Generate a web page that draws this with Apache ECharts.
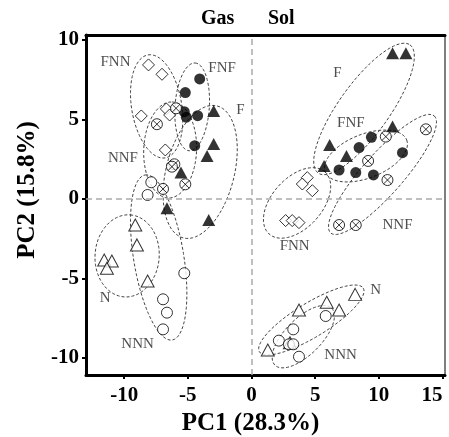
<!DOCTYPE html>
<html>
<head>
<meta charset="utf-8">
<script src="https://cdn.jsdelivr.net/npm/echarts@6/dist/echarts.min.js"></script>
<style>
  html, body { margin: 0; padding: 0; background: #fff; }
  #chart { width: 449px; height: 437px; }
</style>
</head>
<body>
<div id="chart"></div>
<script>
// PCA scores, [PC1, PC2], first six Gas then six Sol
const pointsF = [[-2.97, 5.53], [-2.97, 3.46], [-3.49, 2.7], [-5.54, 1.66], [-6.64, -0.59], [-3.36, -1.32],
  [11.08, 9.16], [12.13, 9.16], [11.08, 4.55], [6.14, 3.4], [7.46, 2.7], [5.7, 2.08]];
const pointsFNF = [[-4.07, 7.55], [-5.2, 6.69], [-5.28, 5.49], [-5.12, 5.14], [-4.23, 5.24], [-4.46, 3.35],
  [9.42, 3.88], [8.45, 3.23], [11.86, 2.91], [6.88, 1.82], [8.19, 1.66], [9.58, 1.51]];
const pointsFNN = [[-8.09, 8.43], [-7.03, 7.84], [-8.66, 5.22], [-6.69, 5.66], [-6.43, 5.28], [-6.77, 3.08],
  [4.38, 1.34], [3.99, 0.94], [4.78, 0.52], [2.68, -1.36], [3.2, -1.36], [3.73, -1.49]];
const pointsNNF = [[-5.93, 5.7], [-7.43, 4.7], [-6.06, 2.18], [-6.25, 2.03], [-5.2, 0.92], [-6.95, 0.63],
  [10.55, 3.92], [13.7, 4.38], [9.16, 2.39], [10.68, 1.19], [6.88, -1.64], [8.19, -1.64]];
const pointsN = [[-9.13, -1.64], [-9.0, -2.89], [-11.57, -3.84], [-10.97, -3.9], [-11.36, -4.36], [-8.16, -5.16],
  [8.14, -6.0], [5.91, -6.5], [6.88, -6.98], [3.73, -6.98], [1.28, -9.5], [3.02, -9.04]];
const pointsNNN = [[-7.87, 1.05], [-8.16, 0.25], [-5.28, -4.67], [-6.95, -6.31], [-6.64, -7.15], [-6.95, -8.2],
  [5.83, -7.36], [3.28, -8.2], [2.15, -8.91], [2.94, -9.14], [3.28, -9.14], [3.73, -9.92]];

// group ellipses: centre, end of major axis, minor/major ratio
const ellipseCenters = [[-4.03, 1.7], [-4.66, 5.79], [-7.45, 5.82], [-6.39, 3.08], [-9.77, -3.58], [-7.29, -3.68],
  [8.84, 5.66], [8.99, 2.7], [3.58, -0.25], [10.29, 1.54], [4.7, -7.61], [4.07, -8.66]];
const ellipseEnds = [[-2.7, 5.85], [-4.43, 8.55], [-8.12, 9.06], [-6.23, 6.1], [-9.53, -1.0], [-8.35, 1.51],
  [12.45, 9.69], [12.19, 3.71], [5.78, 1.7], [14.36, 5.22], [8.78, -5.61], [6.3, -6.87]];
const ellipseRatios = [0.5, 0.39, 0.48, 0.55, 0.78, 0.3, 0.32, 0.5, 0.6, 0.26, 0.28, 0.45];

const groupLabels = ['FNN', 'FNF', 'F', 'NNF', 'N', 'NNN', 'F', 'FNF', 'FNN', 'NNF', 'N', 'NNN'];
const groupLabelPos = [[-10.68, 8.58], [-2.31, 8.22], [-0.87, 5.6], [-10.1, 2.56], [-11.5, -6.25], [-8.95, -9.12],
  [6.75, 7.9], [7.8, 4.76], [3.39, -2.96], [11.47, -1.64], [9.76, -5.72], [7.0, -9.81]];

const xTicks = [-10, -5, 0, 5, 10, 15];
const yTicks = [-10, -5, 0, 5, 10];

const serif = '"Liberation Serif", "DejaVu Serif", serif';
const chart = echarts.init(document.getElementById('chart'), null, { renderer: 'canvas' });

const ellipseData = ellipseCenters.map((c, i) => [c[0], c[1], ellipseEnds[i][0], ellipseEnds[i][1], ellipseRatios[i]]);

const renderEllipse = (params, api) => {
  const c = api.coord([api.value(0), api.value(1)]);
  const e = api.coord([api.value(2), api.value(3)]);
  const ux = e[0] - c[0];
  const uy = e[1] - c[1];
  const r = api.value(4);
  const vx = -uy * r;
  const vy = ux * r;
  const pts = [];
  for (let k = 0; k < 72; k++) {
    const t = (k / 72) * Math.PI * 2;
    pts.push([c[0] + ux * Math.cos(t) + vx * Math.sin(t), c[1] + uy * Math.cos(t) + vy * Math.sin(t)]);
  }
  return {
    type: 'polygon',
    shape: { points: pts },
    style: { fill: 'none', stroke: '#444', lineWidth: 1, lineDash: [3, 2] }
  };
};

const openStyle = { color: '#fff', borderColor: '#000', borderWidth: 1 };
const otimes = 'path://M0,-10A10,10 0 1,1 0,10A10,10 0 1,1 0,-10Z M-7.07,-7.07L7.07,7.07 M7.07,-7.07L-7.07,7.07';

const tickLabel = {
  color: '#000',
  fontFamily: serif,
  fontWeight: 'bold',
  fontSize: 21
};

const option = {
  animation: false,
  backgroundColor: '#fff',
  grid: { left: 86, right: 4, top: 35, bottom: 62, containLabel: false, outerBoundsMode: 'none' },
  graphic: [
    { type: 'text', left: 201, top: 9, style: { text: 'Gas', font: 'bold 20px ' + serif, fill: '#000' } },
    { type: 'text', left: 268, top: 9, style: { text: 'Sol', font: 'bold 20px ' + serif, fill: '#000' } }
  ],
  xAxis: [{
    type: 'value',
    min: -13,
    max: 15.2,
    splitLine: { show: false },
    axisLine: { onZero: false, lineStyle: { color: '#000', width: 3 } },
    axisTick: { length: 4, lineStyle: { color: '#000', width: 2 }, customValues: xTicks },
    axisLabel: Object.assign({ margin: 10, customValues: xTicks, alignMaxLabel: 'right' }, tickLabel),
    name: 'PC1 (28.3%)',
    nameLocation: 'middle',
    nameGap: 28,
    nameTextStyle: { color: '#000', fontFamily: serif, fontWeight: 'bold', fontSize: 25, padding: [0, 30, 0, 0] }
  }, {
    type: 'value',
    position: 'top',
    min: -13,
    max: 15.2,
    splitLine: { show: false },
    axisLine: { onZero: false, lineStyle: { color: '#000', width: 3 } },
    axisTick: { show: false },
    axisLabel: { show: false }
  }],
  yAxis: [{
    type: 'value',
    min: -11.07,
    max: 10.31,
    splitLine: { show: false },
    axisLine: { onZero: false, lineStyle: { color: '#000', width: 3 } },
    axisTick: { length: 4, lineStyle: { color: '#000', width: 2 }, customValues: yTicks },
    axisLabel: Object.assign({ margin: 7, customValues: yTicks }, tickLabel),
    name: 'PC2 (15.8%)',
    nameLocation: 'middle',
    nameGap: 46,
    nameTextStyle: { color: '#000', fontFamily: serif, fontWeight: 'bold', fontSize: 25, padding: [0, 0, 0, 30] }
  }, {
    type: 'value',
    position: 'right',
    min: -11.07,
    max: 10.31,
    splitLine: { show: false },
    axisLine: { onZero: false, lineStyle: { color: '#555', width: 1.5 } },
    axisTick: { show: false },
    axisLabel: { show: false }
  }],
  series: [
    {
      type: 'custom',
      renderItem: renderEllipse,
      data: ellipseData,
      silent: true,
      z: 1,
      markLine: {
        silent: true,
        symbol: 'none',
        label: { show: false },
        lineStyle: { color: '#aaa', type: [6, 4], width: 1.5 },
        data: [{ xAxis: 0 }, { yAxis: 0 }]
      }
    },
    { name: 'F', type: 'scatter', data: pointsF, symbol: 'triangle', symbolSize: [13, 12], itemStyle: { color: '#000' }, z: 3 },
    { name: 'FNF', type: 'scatter', data: pointsFNF, symbol: 'circle', symbolSize: 11, itemStyle: { color: '#000' }, z: 3 },
    { name: 'FNN', type: 'scatter', data: pointsFNN, symbol: 'diamond', symbolSize: 12, itemStyle: openStyle, z: 3 },
    { name: 'NNF', type: 'scatter', data: pointsNNF, symbol: otimes, symbolSize: 11, itemStyle: openStyle, z: 3 },
    { name: 'N', type: 'scatter', data: pointsN, symbol: 'triangle', symbolSize: [13, 12], itemStyle: openStyle, z: 3 },
    { name: 'NNN', type: 'scatter', data: pointsNNN, symbol: 'circle', symbolSize: 11, itemStyle: openStyle, z: 3 },
    {
      type: 'scatter',
      silent: true,
      symbolSize: 0,
      data: groupLabelPos.map((p, i) => ({ name: groupLabels[i], value: p })),
      label: {
        show: true,
        position: 'inside',
        formatter: '{b}',
        color: '#222',
        fontFamily: serif,
        fontSize: 15
      },
      z: 4
    }
  ]
};

chart.setOption(option);
</script>
</body>
</html>
